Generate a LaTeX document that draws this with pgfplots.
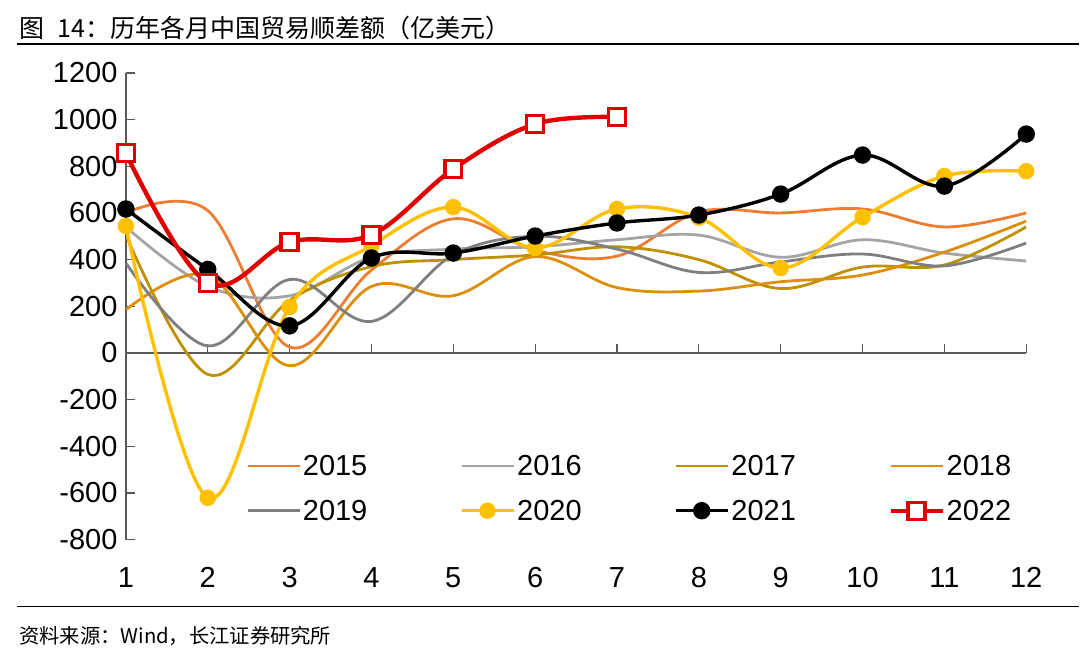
\documentclass[border=0pt]{standalone}
\usepackage{fontspec}
\setmainfont{Liberation Sans}
\newfontfamily\cjk{Noto Sans CJK SC}
\usepackage{pgfplots}
\pgfplotsset{compat=1.18}

\definecolor{c15}{HTML}{ED7D31}
\definecolor{c16}{HTML}{A5A5A5}
\definecolor{c17}{HTML}{BF9000}
\definecolor{c18}{HTML}{DE8F0A}
\definecolor{c19}{HTML}{7F7F7F}
\definecolor{c20}{HTML}{FFC000}
\definecolor{c22}{HTML}{E00000}
\definecolor{axisgray}{HTML}{595959}

\begin{document}
\begin{tikzpicture}
\path (0pt,0pt) rectangle (1080pt,666pt);
% title and rules
\node[anchor=base west,inner sep=0pt,font=\cjk\fontsize{25}{25}\selectfont] at (19pt,628pt) {图\hspace{0.55em}14：历年各月中国贸易顺差额（亿美元）};
\draw[line width=1.6pt] (17pt,622pt) -- (1080pt,622pt);
\draw[line width=1.6pt] (17pt,59pt) -- (1080pt,59pt);
\node[anchor=base west,inner sep=0pt,font=\cjk\fontsize{20.3}{20.3}\selectfont] at (19pt,22pt) {资料来源：Wind，长江证券研究所};

% zero line with ticks, and the y axis line
\begin{axis}[
    at={(126pt,126pt)}, anchor=south west,
    scale only axis, width=901pt, height=467pt,
    xmin=1, xmax=12, ymin=-800, ymax=1200,
    axis x line=middle, axis y line=left,
    axis line style={-, axisgray, line width=1.2pt},
    xtick={1,...,12}, xticklabels={},
    ytick=\empty,
    tick align=inside,
    xtick style={axisgray, line width=1.2pt},
    major tick length=9pt,
]
\end{axis}

\begin{axis}[
    at={(126pt,126pt)}, anchor=south west,
    scale only axis, width=901pt, height=467pt,
    xmin=1, xmax=12, ymin=-800, ymax=1200,
    axis line style={draw=none},
    xtick pos=bottom, ytick pos=left,
    xtick={1,2,3,4,5,6,7,8,9,10,11,12},
    xticklabels={1,2,3,4,5,6,7,8,9,10,11,12},
    xtick style={draw=none},
    ytick={-800,-600,-400,-200,0,200,400,600,800,1000,1200},
    yticklabels={-800,-600,-400,-200,0,200,400,600,800,1000,1200},
    ytick style={axisgray, line width=1.2pt},
    tick align=inside,
    major tick length=9pt,
    tick label style={font=\fontsize{29}{29}\selectfont},
    xticklabel style={yshift=-24pt},
    yticklabel style={xshift=-5pt},
    every axis plot/.append style={smooth, tension=0.6},
    legend columns=4,
    legend cell align=left,
    legend image code/.code={\draw[mark repeat=2,mark phase=2,#1] plot coordinates {(0pt,0pt) (26pt,0pt) (52pt,0pt)};},
    legend style={at={(0.13,0.19)}, anchor=north west, draw=none, fill=none,
        font=\fontsize{29}{29}\selectfont,
        /tikz/every even column/.append style={column sep=90.5pt},
        row sep=19pt},
]
\addplot[c15, line width=2.8pt] coordinates {(1,600) (2,610) (3,25) (4,355) (5,575) (6,440) (7,415) (8,604) (9,600) (10,617) (11,540) (12,600)};
\addlegendentry{2015}
\addplot[c16, line width=2.8pt] coordinates {(1,540) (2,285) (3,245) (4,410) (5,445) (6,455) (7,485) (8,505) (9,410) (10,485) (11,428) (12,394)};
\addlegendentry{2016}
\addplot[c17, line width=2.8pt] coordinates {(1,505) (2,-92) (3,225) (4,370) (5,400) (6,420) (7,455) (8,400) (9,276) (10,368) (11,377) (12,540)};
\addlegendentry{2017}
\addplot[c18, line width=2.8pt] coordinates {(1,185) (2,334) (3,-55) (4,285) (5,245) (6,413) (7,280) (8,265) (9,305) (10,334) (11,432) (12,565)};
\addlegendentry{2018}
\addplot[c19, line width=2.8pt] coordinates {(1,385) (2,30) (3,315) (4,135) (5,420) (6,500) (7,445) (8,345) (9,390) (10,424) (11,373) (12,471)};
\addlegendentry{2019}
\addplot[c20, line width=3.4pt, mark=*, mark size=6.5pt, mark options={solid}] coordinates {(1,544) (2,-621) (3,197) (4,460) (5,625) (6,450) (7,617) (8,580) (9,364) (10,582) (11,758) (12,779)};
\addlegendentry{2020}
\addplot[black, line width=3.4pt, mark=*, mark size=7pt] coordinates {(1,617) (2,358) (3,116) (4,407) (5,428) (6,501) (7,557) (8,591) (9,681) (10,848) (11,715) (12,938)};
\addlegendentry{2021}
\addplot[c22, line width=4.4pt, mark=square*, mark size=8.5pt, mark options={fill=white, line width=3.4pt}] coordinates {(1,856) (2,300) (3,475) (4,506) (5,788) (6,981) (7,1011)};
\addlegendentry{2022}
\end{axis}
\end{tikzpicture}
\end{document}
